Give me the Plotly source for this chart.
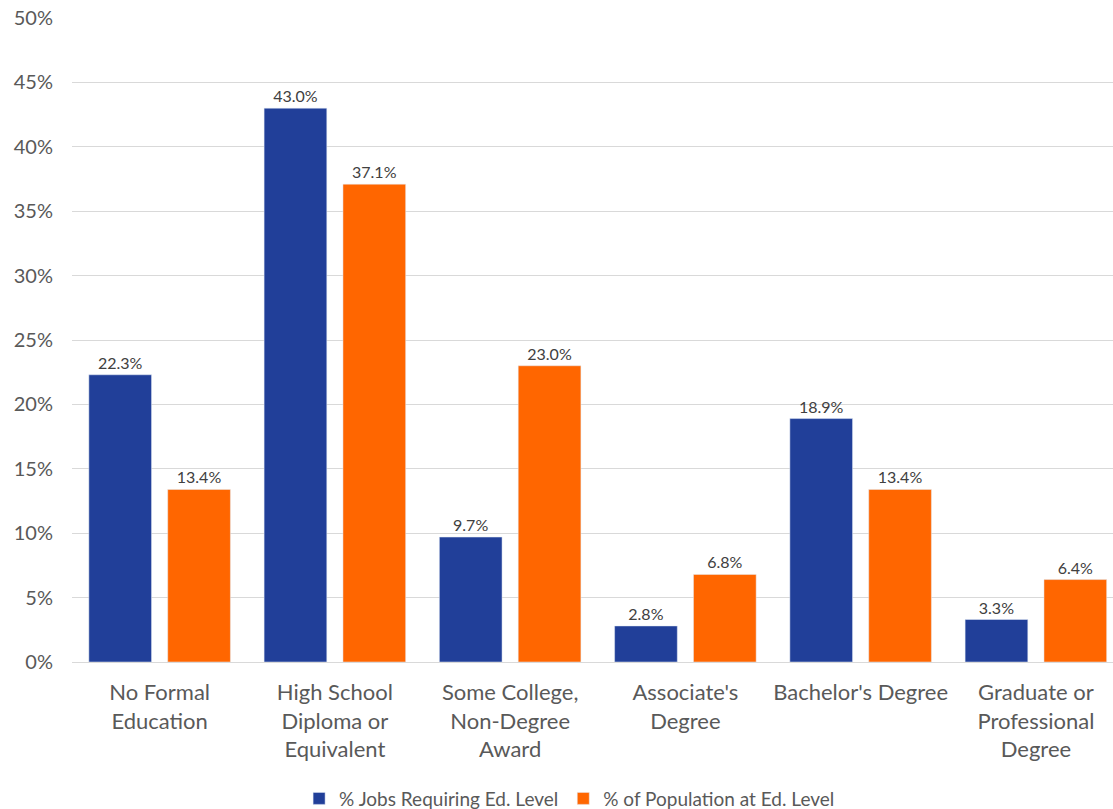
import plotly.graph_objects as go

categories = [
    "No Formal<br>Education",
    "High School<br>Diploma or<br>Equivalent",
    "Some College,<br>Non-Degree<br>Award",
    "Associate's<br>Degree",
    "Bachelor's Degree",
    "Graduate or<br>Professional<br>Degree",
]
jobs_pct = [22.3, 43.0, 9.7, 2.8, 18.9, 3.3]
population_pct = [13.4, 37.1, 23.0, 6.8, 13.4, 6.4]

y_ticks = [0, 5, 10, 15, 20, 25, 30, 35, 40, 45, 50]
y_tick_labels = [f"{v}%" for v in y_ticks]

BLUE = "#213F99"
ORANGE = "#FF6600"
FONT = "Lato, Noto Sans, sans-serif"
LABEL_FONT = dict(size=16, color="#404040", family=FONT)

fig = go.Figure()
fig.add_trace(go.Bar(
    name="% Jobs Requiring Ed. Level",
    x=categories, y=jobs_pct,
    marker=dict(color=BLUE),
    text=[f"{v:.1f}%" for v in jobs_pct],
    textposition="outside",
    textfont=LABEL_FONT,
    cliponaxis=False,
))
fig.add_trace(go.Bar(
    name="% of Population at Ed. Level",
    x=categories, y=population_pct,
    marker=dict(color=ORANGE),
    text=[f"{v:.1f}%" for v in population_pct],
    textposition="outside",
    textfont=LABEL_FONT,
    cliponaxis=False,
))

fig.update_layout(
    width=1113, height=809,
    margin=dict(l=72, r=0, t=18, b=147, autoexpand=False),
    paper_bgcolor="white", plot_bgcolor="white",
    barmode="group", bargap=0.10, bargroupgap=0.205,
    font=dict(family=FONT, color="#595959"),
    showlegend=True,
    legend=dict(
        orientation="h", x=0.478, xanchor="center", y=-0.212, yanchor="middle",
        font=dict(size=19, color="#595959", family=FONT),
        itemwidth=30, traceorder="normal",
    ),
)
fig.update_xaxes(
    type="category", range=[-0.5, 5.44],
    showgrid=False, showline=False, ticks="",
    automargin=False,
    tickfont=dict(size=22, color="#595959", family=FONT),
    ticklabelstandoff=15,
)
fig.update_yaxes(
    range=[0, 50], tickvals=y_ticks, ticktext=y_tick_labels,
    showgrid=True, gridcolor="#D9D9D9", gridwidth=1,
    zeroline=True, zerolinecolor="#D9D9D9", zerolinewidth=1,
    showline=False, ticks="", automargin=False,
    tickfont=dict(size=20, color="#595959", family=FONT),
    ticklabelstandoff=18,
)

fig.write_html("out.html")
